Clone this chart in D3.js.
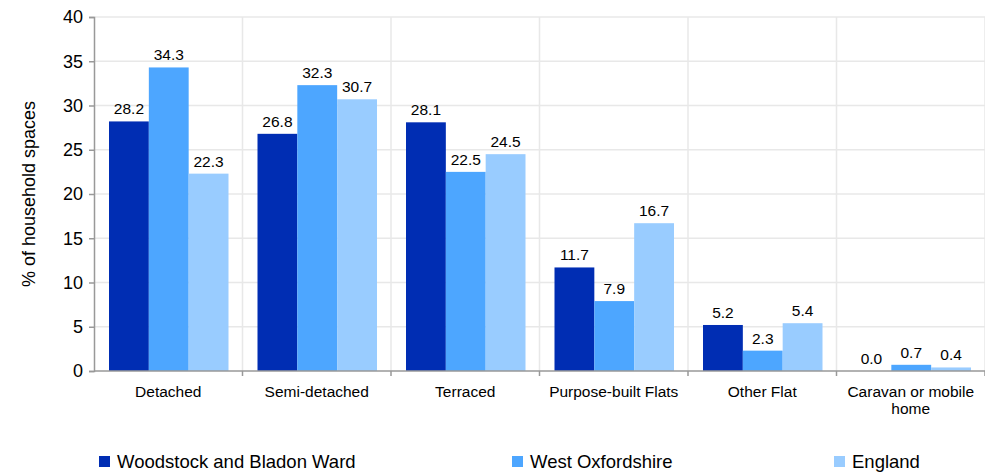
<!DOCTYPE html>
<html lang="en">
<head>
    <meta charset="UTF-8">
    <title>Household spaces</title>
    <script src="https://cdn.jsdelivr.net/npm/d3@7"></script>
    <style>
        body { margin: 0; background: #fff; }
        text { font-family: "Liberation Sans", Arial, sans-serif; fill: #000; }
    </style>
</head>
<body>
    <div id="chart-space"></div>

    <script>
        var categories = ["Detached", "Semi-detached", "Terraced", "Purpose-built Flats", "Other Flat", "Caravan or mobile home"];
        var seriesNames = ["Woodstock and Bladon Ward", "West Oxfordshire", "England"];
        var woodstock = [28.2, 26.8, 28.1, 11.7, 5.2, 0.0];
        var westOxon = [34.3, 32.3, 22.5, 7.9, 2.3, 0.7];
        var england = [22.3, 30.7, 24.5, 16.7, 5.4, 0.4];
        var yTicks = [0, 5, 10, 15, 20, 25, 30, 35, 40];
        var colors = ["#002db3", "#4da6ff", "#99ccff"];

        var width = 985, height = 472;
        var plotLeft = 94, plotRight = 985, plotTop = 17, plotBottom = 371;

        var svg = d3.select("#chart-space").append("svg")
            .attr("width", width).attr("height", height);

        var x = d3.scaleBand().domain(categories).range([plotLeft, plotRight]).paddingInner(0).paddingOuter(0);
        var x1 = d3.scaleBand().domain(seriesNames).range([15, x.bandwidth() - 14]);
        var y = d3.scaleLinear().domain([0, 40]).range([plotBottom, plotTop]);

        // gridlines
        svg.append("g").selectAll("line").data(yTicks.slice(1)).join("line")
            .attr("x1", plotLeft).attr("x2", plotRight)
            .attr("y1", d => y(d)).attr("y2", d => y(d))
            .attr("stroke", "#e8e8e8").attr("stroke-width", 1.5);
        svg.append("g").selectAll("line").data(categories).join("line")
            .attr("x1", d => x(d) + x.bandwidth()).attr("x2", d => x(d) + x.bandwidth())
            .attr("y1", plotTop).attr("y2", plotBottom)
            .attr("stroke", "#e8e8e8").attr("stroke-width", 1.5);

        var data = categories.map((c, i) => ({cat: c, vals: [woodstock[i], westOxon[i], england[i]]}));

        var groups = svg.append("g").selectAll("g").data(data).join("g")
            .attr("transform", d => "translate(" + x(d.cat) + ",0)");

        groups.selectAll("rect").data(d => d.vals.map((v, j) => ({s: seriesNames[j], v: v, j: j}))).join("rect")
            .attr("x", d => x1(d.s)).attr("width", x1.bandwidth())
            .attr("y", d => y(d.v)).attr("height", d => plotBottom - y(d.v))
            .attr("fill", d => colors[d.j]);

        groups.selectAll("text").data(d => d.vals.map((v, j) => ({s: seriesNames[j], v: v}))).join("text")
            .attr("x", d => x1(d.s) + x1.bandwidth() / 2)
            .attr("y", d => y(d.v) - 7)
            .attr("text-anchor", "middle")
            .style("font-size", "15.5px")
            .text(d => d.v.toFixed(1));

        // y axis
        var yAxis = svg.append("g").attr("transform", "translate(" + plotLeft + ",0)")
            .call(d3.axisLeft(y).tickValues(yTicks).tickSize(5).tickPadding(6));
        yAxis.selectAll("text").style("font-size", "18px").style("font-family", "Liberation Sans, Arial, sans-serif");
        yAxis.selectAll("line").attr("stroke", "#999").attr("stroke-width", 1.5);
        yAxis.select(".domain").attr("stroke", "#999").attr("stroke-width", 1.5);

        // x axis
        var xAxis = svg.append("g").attr("transform", "translate(0," + plotBottom + ")");
        xAxis.append("line").attr("x1", plotLeft).attr("x2", plotRight).attr("stroke", "#999").attr("stroke-width", 1.5);
        xAxis.selectAll("line.tk").data(categories).join("line").attr("class", "tk")
            .attr("x1", d => x(d) + x.bandwidth()).attr("x2", d => x(d) + x.bandwidth())
            .attr("y1", 0).attr("y2", 5).attr("stroke", "#999").attr("stroke-width", 1.5);

        var labelLines = {"Caravan or mobile home": ["Caravan or mobile", "home"]};
        xAxis.selectAll("text").data(categories).join("text")
            .attr("text-anchor", "middle")
            .attr("x", d => x(d) + x.bandwidth() / 2)
            .attr("y", 26)
            .style("font-size", "15.5px")
            .each(function(d) {
                var lines = labelLines[d] || [d];
                var t = d3.select(this);
                lines.forEach((l, i) => t.append("tspan").attr("x", x(d) + x.bandwidth() / 2).attr("dy", i ? 17 : 0).text(l));
            });

        svg.append("text")
            .attr("transform", "translate(35," + ((plotTop + plotBottom) / 2) + ") rotate(-90)")
            .attr("text-anchor", "middle")
            .style("font-size", "18px")
            .text("% of household spaces");

        // legend
        var legendX = [99, 512, 834];
        var legend = svg.append("g").selectAll("g").data(seriesNames).join("g")
            .attr("transform", (d, i) => "translate(" + legendX[i] + ",456)");
        legend.append("rect").attr("width", 11).attr("height", 11).attr("fill", (d, i) => colors[i]);
        legend.append("text").attr("x", 18).attr("y", 12).style("font-size", "18.5px").text(d => d);
    </script>
</body>
</html>
